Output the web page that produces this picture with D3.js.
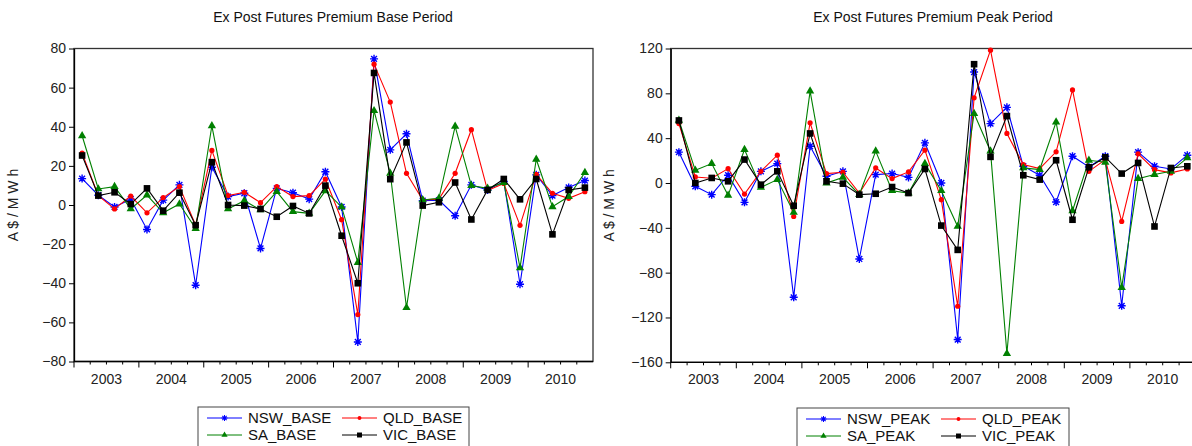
<!DOCTYPE html>
<html>
<head>
<meta charset="utf-8">
<script src="https://cdn.jsdelivr.net/npm/d3@7"></script>
<style>
  body { margin: 0; background: #fff; }
  svg { display: block; font-family: "Liberation Sans", Arial, sans-serif; }
</style>
</head>
<body>
<div id="svgcontainer"></div>
<script>
// quarterly observations, 2003Q1 .. 2010Q4
var years = [2003, 2004, 2005, 2006, 2007, 2008, 2009, 2010];
var quarters = years.flatMap(y => ["Q1", "Q2", "Q3", "Q4"].map(q => y + q));

var nswBase = [13.5, 5, -1, 3, -12.5, 2.5, 10.3, -41, 19.3, 4.3, 6, -22.2, 8.5, 6.3, 3, 17,
    -1, -70, 74.7, 28.2, 36.4, 2.2, 2.5, -5.5, 10.3, 7.7, 12, -40.5, 15.4, 4.8, 9, 12.5];
var qldBase = [26.5, 4.8, -2, 4.6, -4, 3.8, 9.4, -10.3, 27.9, 4.8, 6.5, 1.2, 9.4, 4.3, 4.8, 13.2,
    -7.5, -56, 72, 52.6, 16.2, 2.6, 3, 16.2, 38.5, 7.4, 11, -10.4, 15.7, 6, 3.4, 6.8];
var saBase = [35.4, 8.2, 9.4, -2, 5.1, -4, 0.5, -12, 40.5, -2, 2.2, -2.5, 6.8, -3.4, -4.3, 7.2,
    -1, -29.4, 48.2, 16.2, -52.5, 2.6, 3.4, 40.2, 9.9, 8.5, 11.5, -32.1, 23.4, -0.9, 4.3, 16.6];
var vicBase = [25.3, 4.8, 6.5, 0.5, 8.5, -2.9, 6.3, -10.3, 21.9, 0, -0.3, -2, -6, -0.5, -4.3, 9.9,
    -15.7, -40, 67.5, 13.2, 32, -0.3, 1.4, 11.5, -7.4, 7.7, 13.3, 2.9, 13.3, -15, 7.7, 8.9];

var nswPeak = [27.5, -3, -10.4, 6.9, -17.3, 10.4, 17.3, -102, 32.8, 6, 10.4, -67.8, 7.5, 8.4, 5, 35.8,
    0, -139.7, 99, 53, 67.5, 15, 6.9, -17, 23.9, 14.3, 23.9, -109.6, 27.5, 15, 12.5, 24.8];
var qldPeak = [53, 5.4, 4.2, 12.8, -9.9, 10.4, 24.8, -29.9, 53.7, 8.4, 9.6, -9, 13.4, 3.9, 9.9, 29.3,
    -14.9, -110, 76, 118.5, 44.2, 16.4, 12.8, 27.8, 83, 10.4, 20.9, -34.3, 26, 11.9, 9, 12.5];
var saPeak = [56, 11.3, 17.3, -11, 29.9, -3.9, 3, -26.3, 82, 0, 5, -10.4, 28.4, -6.9, -9, 17.3,
    -6.9, -38.8, 62, 28.4, -152.2, 13.4, 12, 54.3, -24.8, 20.3, 18.5, -93.4, 3.9, 7.5, 10.4, 22.4];
var vicPeak = [55.8, 0, 4.5, 1.5, 20.9, -1.5, 10.4, -20.3, 44.2, 1.5, -0.6, -10.4, -9.6, -3.6, -9, 12.5,
    -38, -59.7, 106, 23.3, 59.7, 6.9, 3, 20.3, -32.8, 14, 23, 8.4, 17.9, -38.8, 13.4, 14.9];

var baseTicks = [-80, -60, -40, -20, 0, 20, 40, 60, 80];
var peakTicks = [-160, -120, -80, -40, 0, 40, 80, 120];

var regions = [
    { key: "NSW", color: "#0000ff", marker: "star" },
    { key: "QLD", color: "#ff0000", marker: "circle" },
    { key: "SA", color: "#008000", marker: "triangle" },
    { key: "VIC", color: "#000000", marker: "square" }
];

var svg = d3.select("#svgcontainer")
    .append("svg")
    .attr("width", 1192)
    .attr("height", 446);

function drawMarker(g, type, color) {
    if (type == "star") {
        g.append("path")
            .attr("d", "M-4,0H4M0,-4V4M-2.9,-2.9L2.9,2.9M-2.9,2.9L2.9,-2.9")
            .attr("stroke", color)
            .attr("stroke-width", 1.4)
            .attr("fill", "none");
    } else if (type == "circle") {
        g.append("circle").attr("r", 2.6).attr("fill", color);
    } else if (type == "triangle") {
        g.append("path").attr("d", d3.symbol(d3.symbolTriangle, 30)).attr("fill", color);
    } else {
        g.append("rect").attr("x", -3.3).attr("y", -3.3).attr("width", 6.6).attr("height", 6.6).attr("fill", color);
    }
}

function drawPanel(opt) {
    var x = d3.scaleBand().domain(quarters).range([opt.left, opt.right]).padding(0);
    var y = d3.scaleLinear().domain(opt.domain).range([opt.bottom, opt.top]);
    var bw = x.bandwidth();

    var g = svg.append("g");

    // title
    g.append("text")
        .attr("x", opt.titleX)
        .attr("y", 22)
        .attr("text-anchor", "middle")
        .style("font-size", "14px")
        .attr("fill", "#111")
        .text(opt.title);

    // frame
    g.append("rect")
        .attr("x", opt.left)
        .attr("y", opt.top)
        .attr("width", opt.right - opt.left)
        .attr("height", opt.bottom - opt.top)
        .attr("fill", "none")
        .attr("stroke", "#333")
        .attr("stroke-width", 1.3);

    // y axis
    var yaxis = g.append("g")
        .attr("transform", "translate(" + opt.left + ",0)")
        .call(d3.axisLeft(y).tickValues(opt.ticks).tickSize(5).tickSizeOuter(0));
    yaxis.select(".domain").attr("stroke", "#000").attr("stroke-width", 1.3);
    yaxis.selectAll("text").style("font-size", "14px").attr("fill", "#222").attr("x", -8);

    g.append("text")
        .attr("transform", "translate(" + opt.labelX + "," + ((opt.top + opt.bottom) / 2) + ") rotate(-90)")
        .attr("text-anchor", "middle")
        .style("font-size", "14px")
        .attr("fill", "#222")
        .text("A $ / M W h");

    // x axis: quarter ticks, longer at year starts
    var xaxis = g.append("g");
    xaxis.append("line")
        .attr("x1", opt.left).attr("x2", opt.right)
        .attr("y1", opt.bottom).attr("y2", opt.bottom)
        .attr("stroke", "#000").attr("stroke-width", 1.3);
    xaxis.selectAll(".qt")
        .data(quarters)
        .join("line")
        .attr("x1", d => x(d)).attr("x2", d => x(d))
        .attr("y1", opt.bottom)
        .attr("y2", d => opt.bottom + (d.endsWith("Q1") ? 6 : 3))
        .attr("stroke", "#000");
    xaxis.selectAll("text")
        .data(years)
        .join("text")
        .attr("x", d => x(d + "Q1") + 2 * bw)
        .attr("y", opt.bottom + 22)
        .attr("text-anchor", "middle")
        .style("font-size", "14px")
        .attr("fill", "#222")
        .text(d => d);

    // series
    var line = d3.line().x((d, i) => x(quarters[i]) + bw / 2).y(d => y(d));
    opt.series.forEach(function(s, k) {
        var r = regions[k];
        g.append("path")
            .datum(s)
            .attr("d", line)
            .attr("fill", "none")
            .attr("stroke", r.color)
            .attr("stroke-width", 1.1);
        s.forEach(function(v, i) {
            var m = g.append("g").attr("transform", "translate(" + (x(quarters[i]) + bw / 2) + "," + y(v) + ")");
            drawMarker(m, r.marker, r.color);
        });
    });

    // legend
    var lg = g.append("g").attr("transform", "translate(" + opt.legendX + "," + opt.legendY + ")");
    lg.append("rect")
        .attr("width", opt.legendW).attr("height", 60)
        .attr("fill", "#fff").attr("stroke", "#444").attr("stroke-width", 1);
    regions.forEach(function(r, k) {
        var cx = (k % 2) * 135 + 9, cy = 11 + Math.floor(k / 2) * 17;
        lg.append("line")
            .attr("x1", cx).attr("x2", cx + 35)
            .attr("y1", cy).attr("y2", cy)
            .attr("stroke", r.color);
        var m = lg.append("g").attr("transform", "translate(" + (cx + 17.5) + "," + cy + ") scale(0.75)");
        drawMarker(m, r.marker, r.color);
        lg.append("text")
            .attr("x", cx + 41)
            .attr("y", cy + 5)
            .style("font-size", "15px")
            .attr("fill", "#111")
            .text(r.key + opt.suffix);
    });
}

drawPanel({
    title: "Ex Post Futures Premium Base Period",
    titleX: 333,
    left: 74, right: 593, top: 48.5, bottom: 361.5,
    domain: [-80, 80], ticks: baseTicks, labelX: 18,
    series: [nswBase, qldBase, saBase, vicBase],
    suffix: "_BASE",
    legendX: 198, legendY: 407, legendW: 271
});

drawPanel({
    title: "Ex Post Futures Premium Peak Period",
    titleX: 933,
    left: 670.7, right: 1195.5, top: 48.5, bottom: 362.3,
    domain: [-160, 120], ticks: peakTicks, labelX: 614,
    series: [nswPeak, qldPeak, saPeak, vicPeak],
    suffix: "_PEAK",
    legendX: 797, legendY: 408, legendW: 272
});
</script>
</body>
</html>
